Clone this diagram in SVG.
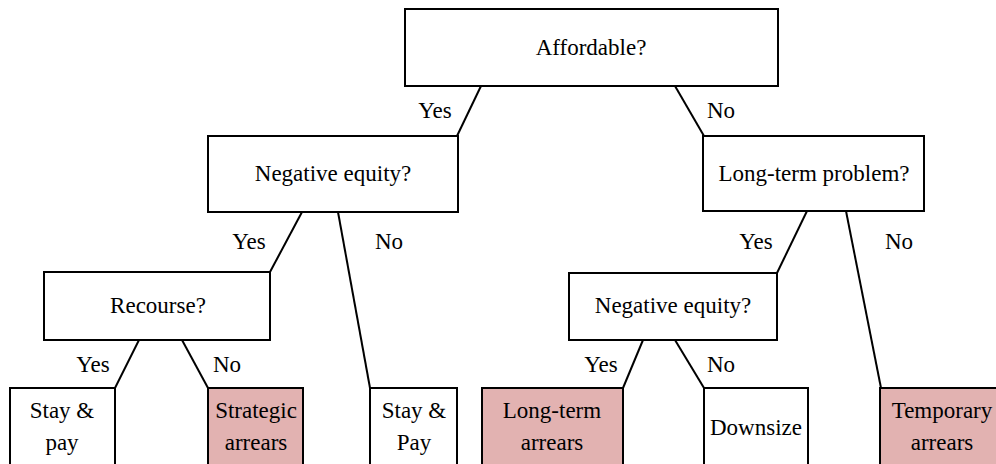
<svg xmlns="http://www.w3.org/2000/svg" width="996" height="464" viewBox="0 0 996 464">
<style>
.box{fill:#ffffff;stroke:#000000;stroke-width:2}
.leaf{fill:#ffffff;stroke:#000000;stroke-width:2}
.bad{fill:#e2b2b1;stroke:#000000;stroke-width:2}
.edge{stroke:#000000;stroke-width:2;fill:none}
text{font-family:"Liberation Serif","Times New Roman",serif;font-size:23px;fill:#000000;text-anchor:middle}
</style>
<rect x="0" y="0" width="996" height="464" fill="#ffffff"/>
<g id="connectors">
<line class="edge" x1="481" y1="86" x2="457" y2="136"/>
<line class="edge" x1="675" y1="86" x2="704" y2="136"/>
<line class="edge" x1="302" y1="212" x2="270" y2="272"/>
<line class="edge" x1="338" y1="212" x2="370" y2="388"/>
<line class="edge" x1="807" y1="211" x2="777" y2="273"/>
<line class="edge" x1="846" y1="211" x2="881" y2="388"/>
<line class="edge" x1="139" y1="340" x2="115" y2="388"/>
<line class="edge" x1="182" y1="340" x2="208" y2="388"/>
<line class="edge" x1="643" y1="340" x2="623" y2="388"/>
<line class="edge" x1="675" y1="340" x2="704" y2="388"/>
<text x="435" y="118">Yes</text>
<text x="721" y="118">No</text>
<text x="249" y="249">Yes</text>
<text x="389" y="249">No</text>
<text x="756" y="249">Yes</text>
<text x="899" y="249">No</text>
<text x="93" y="372">Yes</text>
<text x="227" y="372">No</text>
<text x="601" y="372">Yes</text>
<text x="721" y="372">No</text>
</g>
<g id="affordable">
<rect class="box" x="405" y="9" width="373" height="77"/>
<text x="591" y="55">Affordable?</text>
</g>
<g id="negative-equity-1">
<rect class="box" x="208" y="136" width="250" height="76"/>
<text x="333" y="181">Negative equity?</text>
</g>
<g id="long-term-problem">
<rect class="box" x="703" y="136" width="221" height="75"/>
<text x="814" y="181">Long-term problem?</text>
</g>
<g id="recourse">
<rect class="box" x="44" y="272" width="226" height="68"/>
<text x="158" y="313">Recourse?</text>
</g>
<g id="negative-equity-2">
<rect class="box" x="569" y="273" width="208" height="67"/>
<text x="673" y="313">Negative equity?</text>
</g>
<g id="stay-pay-1">
<rect class="leaf" x="10" y="388" width="105" height="90"/>
<text x="62" y="418">Stay &amp;</text>
<text x="62" y="450">pay</text>
</g>
<g id="strategic-arrears">
<rect class="bad" x="208" y="388" width="95" height="90"/>
<text x="256" y="418">Strategic</text>
<text x="256" y="450">arrears</text>
</g>
<g id="stay-pay-2">
<rect class="leaf" x="370" y="388" width="87" height="90"/>
<text x="414" y="418">Stay &amp;</text>
<text x="414" y="450">Pay</text>
</g>
<g id="long-term-arrears">
<rect class="bad" x="482" y="388" width="141" height="90"/>
<text x="552" y="418">Long-term</text>
<text x="552" y="450">arrears</text>
</g>
<g id="downsize">
<rect class="leaf" x="704" y="388" width="104" height="90"/>
<text x="756" y="435">Downsize</text>
</g>
<g id="temporary-arrears">
<rect class="bad" x="880" y="388" width="125" height="90"/>
<text x="942" y="418">Temporary</text>
<text x="942" y="450">arrears</text>
</g>
</svg>
